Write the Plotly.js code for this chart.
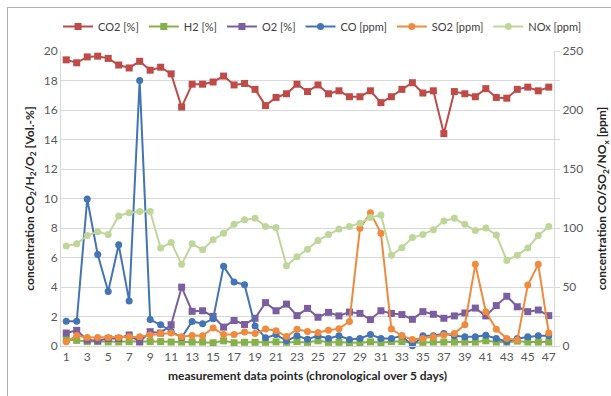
<!DOCTYPE html>
<html><head><meta charset="utf-8">
<script src="https://cdn.plot.ly/plotly-3.0.1.min.js"></script>
<style>
html,body{margin:0;padding:0;background:#fff;}
#frame{position:absolute;left:7px;top:7px;width:700px;height:500px;border-left:1px solid #b0b0b0;border-top:1px solid #b0b0b0;pointer-events:none;}
#chart{position:absolute;left:0;top:0;width:611px;height:396px;}
</style></head>
<body>
<div id="chart"></div>
<div id="frame"></div>
<script>
const points = Array.from({length:47},(_,i)=>i+1);
const xTicks = [1,3,5,7,9,11,13,15,17,19,21,23,25,27,29,31,33,35,37,39,41,43,45,47];

const co2 = [19.4,19.2,19.6,19.65,19.5,19.05,18.85,19.3,18.7,18.9,18.45,16.2,17.75,17.75,17.9,18.3,17.7,17.8,17.4,16.3,16.85,17.1,17.75,17.25,
             17.7,17.1,17.3,16.9,16.9,17.3,16.5,16.9,17.4,17.85,17.15,17.3,14.4,17.25,17.1,16.9,17.45,16.85,16.8,17.4,17.55,17.3,17.55];
const h2 = [0.45,0.38,0.3,0.3,0.28,0.28,0.3,0.28,0.3,0.3,0.27,0.27,0.27,0.27,0.22,0.35,0.22,0.25,0.25,0.25,0.28,0.25,0.3,0.25,
            0.35,0.25,0.25,0.22,0.22,0.28,0.22,0.3,0.3,0.22,0.25,0.27,0.27,0.27,0.27,0.27,0.35,0.27,0.27,0.33,0.27,0.27,0.27];
const o2 = [0.88,1.06,0.4,0.35,0.51,0.51,0.75,0.29,0.97,0.88,1.44,3.99,2.35,2.39,2.01,1.28,1.73,1.46,1.88,2.94,2.39,2.84,2.06,2.55,
            1.95,2.28,2.04,2.3,2.21,1.79,2.39,2.21,2.13,1.81,2.33,2.15,1.88,2.04,2.24,2.57,2.04,2.74,3.37,2.66,2.33,2.44,2.06];
const co = [21,21,124.6,77.5,46.2,85.8,38.2,225,22.4,18,12.5,7.2,20.8,18.8,23,67.5,54.2,52,16.9,6.9,9.7,4.4,8.6,5.8,
            8.6,6.4,8.6,5.6,6.4,9.7,6.4,6.4,8.6,0.3,8.6,8.6,10.5,8.6,7.8,7.8,9.1,6.4,3.6,6.4,7.8,8.6,8.6];
const so2 = [3.6,8.9,7.2,7.2,7.2,7.2,7.8,7.8,9.4,10.5,11.1,7.8,8.9,8.6,15.2,9.7,9.7,11.9,10.5,14.4,13,8,14.1,12.2,
             11.4,13.3,14.7,20.8,99.7,113,95.5,14.4,8.6,5.6,6.4,7.8,9.4,10.5,18,69.2,29.1,14.1,6.4,5,51.7,69.2,11.1];
const nox = [84.7,86.6,93.6,96.9,94.4,110.2,113,114,114,83.1,87.8,69.2,86.6,81.6,90,95.5,103.2,106.9,108.2,101.3,100.5,68.1,75.6,82,
             89.5,94.4,99.1,101.3,104.1,108.8,111,77,83.3,91.9,94.4,98.6,106,108.2,103.2,97.8,100,94.1,72.5,77,83.1,93.6,101.3];

function tr(name, y, color, symbol, axis){
  return {x: points, y: y, name: name, type:'scatter', mode:'lines+markers', yaxis: axis,
    line:{color:color, width:2}, marker:{color:color, symbol:symbol, size:7}, cliponaxis:false};
}
const data = [
  tr('CO2 [%]', co2, '#be4b48', 'square', 'y'),
  tr('H2 [%]', h2, '#86b049', 'square', 'y'),
  tr('O2 [%]', o2, '#7b5ea0', 'square', 'y'),
  tr('CO [ppm]', co, '#4374b5', 'circle', 'y2'),
  tr('SO2 [ppm]', so2, '#f08a3c', 'circle', 'y2'),
  tr('NOx [ppm]', nox, '#bfd69a', 'circle', 'y2')
];

const fam = 'Lato, "Open Sans", sans-serif';
const tickFont = {family:fam, size:12, color:'#595959'};
const titleFont = {family:fam, size:12, color:'#262626', weight:'bold'};
const layout = {
  width:611, height:396,
  margin:{l:61, r:57, t:45, b:50},
  paper_bgcolor:'#fff', plot_bgcolor:'#fff',
  font:{family:fam, size:12, color:'#404040'},
  showlegend:true,
  legend:{orientation:'h', xref:'paper', yref:'paper', x:-0.006, xanchor:'left', y:1.083, yanchor:'middle',
          font:{family:fam, size:11, color:'#404040'}, itemwidth:30, tracegroupgap:0, bgcolor:'rgba(0,0,0,0)'},
  xaxis:{range:[0.5,47.5], tickvals:xTicks, ticktext:xTicks.map(String), tickfont:tickFont,
         showline:true, linecolor:'#d9d9d9', linewidth:1, showgrid:false, zeroline:false, ticks:'',
         title:{text:'measurement data points (chronological over 5 days)', font:titleFont, standoff:8}},
  yaxis:{range:[0,20], dtick:2, tickfont:tickFont, showline:true, linecolor:'#d9d9d9', gridcolor:'#d9d9d9',
         zeroline:false, ticks:'',
         title:{text:'concentration CO<sub>2</sub>/H<sub>2</sub>/O<sub>2</sub> [Vol.-%]', font:titleFont, standoff:6}},
  yaxis2:{range:[0,250], dtick:50, overlaying:'y', side:'right', tickfont:tickFont, showline:true,
          linecolor:'#d9d9d9', showgrid:false, zeroline:false, ticks:'outside', ticklen:5, tickcolor:'#d9d9d9',
          minor:{dtick:25, ticks:'outside', ticklen:5, tickcolor:'#d9d9d9', showgrid:false},
          title:{text:'concentration CO/SO<sub>2</sub>/NO<sub>x</sub> [ppm]', font:titleFont, standoff:18}}
};
Plotly.newPlot('chart', data, layout, {displayModeBar:false, staticPlot:true});
</script>
</body></html>
